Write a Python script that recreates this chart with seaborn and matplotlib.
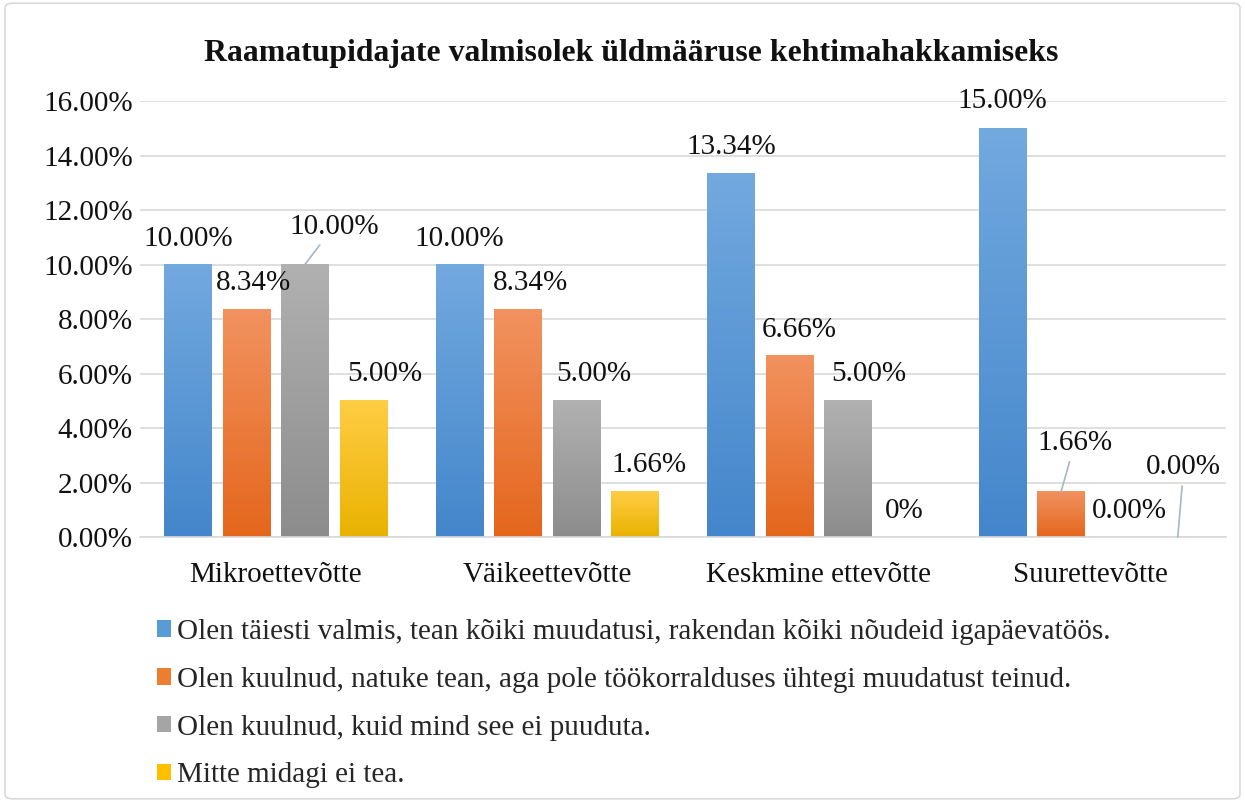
#!/usr/bin/env python3
"""Raamatupidajate valmisolek -- grouped bar chart with Excel-like gradient bars."""

import numpy as np
import pandas as pd
import matplotlib.pyplot as plt
import matplotlib.colors as mcolors
from matplotlib.patches import Patch, FancyBboxPatch
from matplotlib.ticker import FuncFormatter
import seaborn as sns

# -- data ---------------------------------------------------------------------
categories = ["Mikroettevõtte", "Väikeettevõtte", "Keskmine ettevõtte", "Suurettevõtte"]

series = [
    "Olen täiesti valmis, tean kõiki muudatusi, rakendan kõiki nõudeid igapäevatöös.",
    "Olen kuulnud, natuke tean, aga pole töökorralduses ühtegi muudatust teinud.",
    "Olen kuulnud, kuid mind see ei puuduta.",
    "Mitte midagi ei tea.",
]

fully_ready = [10.00, 10.00, 13.34, 15.00]
heard_some = [8.34, 8.34, 6.66, 1.66]
not_concerned = [10.00, 5.00, 5.00, 0.00]
know_nothing = [5.00, 1.66, 0.00, 0.00]

# label texts as shown on the chart (one label reads "0%")
label_texts = [
    ["10.00%", "10.00%", "13.34%", "15.00%"],
    ["8.34%", "8.34%", "6.66%", "1.66%"],
    ["10.00%", "5.00%", "5.00%", "0.00%"],
    ["5.00%", "1.66%", "0%", "0.00%"],
]

title = "Raamatupidajate valmisolek üldmääruse kehtimahakkamiseks"

# -- styling ------------------------------------------------------------------
# gradient top -> bottom per series
grad = [
    ("#72a9df", "#4486cb"),
    ("#f29260", "#e4661c"),
    ("#b1b1b1", "#8c8c8c"),
    ("#ffcd45", "#e9b200"),
]
legend_cols = ["#5b9bd5", "#ed7d31", "#a5a5a5", "#ffc000"]

# label offsets in pixels from bar-top centre (dx, dy), and which get leader lines
label_offsets = [
    [(0, 26), (0, 26), (0, 27), (0, 27)],
    [(7, 27), (12, 27), (10, 26), (14, 49)],
    [(29, 38), (17, 27), (21, 27), (10, 26)],
    [(22, 27), (14, 27), (-2, 26), (6, 70)],
]
leaders = {(2, 0), (1, 3), (3, 3)}

FONT = ["Liberation Serif", "DejaVu Serif"]
FS = 21

df = pd.DataFrame({
    "category": categories * 4,
    "series": [s for s in series for _ in categories],
    "value": np.concatenate([fully_ready, heard_some, not_concerned, know_nothing]) / 100,
})

sns.set_theme(style="white")
plt.rcParams["font.family"] = FONT

fig = plt.figure(figsize=(12.45, 8.02), dpi=100)
ax = fig.add_axes([0.1124, 0.3304, 0.8723, 0.5436])

sns.barplot(
    data=df, x="category", y="value", hue="series",
    order=categories, hue_order=series,
    width=0.86, gap=0.19, ax=ax, legend=False,
    palette=legend_cols, errorbar=None, saturation=1,
)

# gradient fill per bar
for si, cont in enumerate(ax.containers):
    cmap = mcolors.LinearSegmentedColormap.from_list(f"g{si}", [grad[si][1], grad[si][0]])
    for bar in cont:
        h = bar.get_height()
        if h <= 0:
            bar.set_visible(False)
            continue
        x0 = bar.get_x()
        w = bar.get_width()
        g = np.linspace(0, 1, 256).reshape(-1, 1)
        ax.imshow(g, cmap=cmap, origin="lower", aspect="auto",
                  extent=(x0, x0 + w, 0, h), zorder=2)
        bar.set_facecolor("none")
        bar.set_edgecolor("none")

ax.set_ylim(0, 0.16)
ax.set_xlim(-0.5, 3.5)

# data labels
for si, cont in enumerate(ax.containers):
    for ci, bar in enumerate(cont):
        xc = bar.get_x() + bar.get_width() / 2
        top = bar.get_height()
        dx, dy = label_offsets[si][ci]
        arrow = None
        if (si, ci) in leaders:
            arrow = dict(arrowstyle="-", color="#a6b5c8", lw=1.2, shrinkA=2, shrinkB=0)
        ax.annotate(label_texts[si][ci], xy=(xc, top),
                    xytext=(dx, dy), textcoords="offset pixels",
                    ha="center", va="center", fontsize=FS, color="#111111",
                    arrowprops=arrow, zorder=4, annotation_clip=False)

# axes styling
ax.yaxis.set_major_formatter(FuncFormatter(lambda v, _: f"{v * 100:.2f}%"))
ax.set_yticks(np.arange(0, 0.161, 0.02))
ax.grid(axis="y", color="#d9d9d9", lw=1.2, zorder=0)
ax.set_axisbelow(True)
for s in ["left", "right", "top"]:
    ax.spines[s].set_visible(False)
ax.spines["bottom"].set_color("#d9d9d9")
ax.spines["bottom"].set_linewidth(1.2)
ax.tick_params(axis="both", length=0, labelsize=FS, colors="#111111")
ax.tick_params(axis="x", pad=18)
ax.tick_params(axis="y", pad=5)
ax.set_xlabel("")
ax.set_ylabel("")

fig.text(0.507, 0.933, title, ha="center", va="center",
         fontsize=22.9, fontweight="bold", color="#111111")

handles = [Patch(facecolor=c, edgecolor="none", label=s) for c, s in zip(legend_cols, series)]
fig.legend(handles=handles, loc="upper left", bbox_to_anchor=(0.1165, 0.243),
           bbox_transform=fig.transFigure,
           frameon=False, fontsize=FS, ncol=1, handlelength=0.5, handleheight=0.5,
           handletextpad=0.2, labelspacing=0.75, borderaxespad=0)

# outer chart border
fig.patches.append(FancyBboxPatch((0.004, 0.004), 0.992, 0.992,
                                  boxstyle="round,pad=0,rounding_size=0.006",
                                  transform=fig.transFigure, fill=False,
                                  edgecolor="#d9d9d9", lw=1.2))

fig.savefig("out.png", dpi=100)
plt.close(fig)
